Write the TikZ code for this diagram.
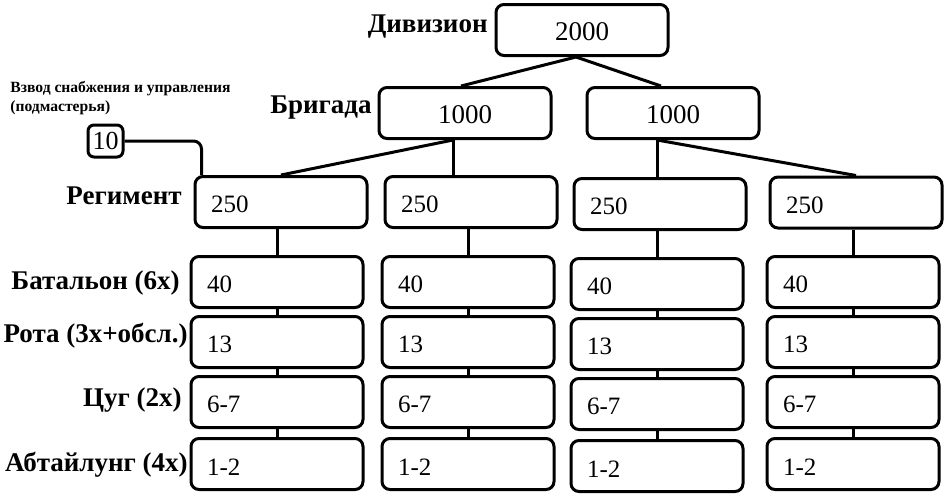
\documentclass[tikz,border=0pt]{standalone}
\usepackage{fontspec}
\setmainfont{Liberation Serif}
\usetikzlibrary{positioning}

\tikzset{
    unit/.style={draw, line width=1.5pt, rounded corners=4pt, minimum height=25.5pt,
        text width=70pt, align=left, inner xsep=8pt, text height=11pt,
        font=\fontsize{12.5}{14}\selectfont},
    head/.style={draw, line width=1.5pt, rounded corners=4pt, minimum width=86pt,
        minimum height=25.5pt, text height=11pt, font=\fontsize{13.5}{15}\selectfont},
    rank/.style={anchor=east, inner sep=0pt, font=\bfseries\fontsize{13.5}{16}\selectfont},
    link/.style={line width=1.5pt}
}

\begin{document}
\begin{tikzpicture}[x=0.5pt, y=-0.5pt]
    \useasboundingbox (0,0) rectangle (948,500);

    % Division and brigades
    \node[head] (div) at (582,30) {2000};
    \node[head] (bri1) at (465,113) {1000};
    \node[head] (bri2) at (673,113) {1000};

    % Regiments
    \foreach \c/\x/\y in {1/281/202, 2/471/202, 3/660/204, 4/856/202.5}
        \node[unit] (reg\c) at (\x,\y) {250};

    % Lower units
    \foreach \c/\x/\dy in {1/277/0, 2/468/0, 3/657/2, 4/853/0} {
        \node[unit] (bat\c) at (\x,282+\dy) {40};
        \node[unit] (rota\c) at (\x,342+\dy) {13};
        \node[unit] (zug\c) at (\x,402+\dy) {6-7};
        \node[unit] (abt\c) at (\x,464+\dy) {1-2};
    }

    % Connectors
    \draw[link] ([xshift=-3pt]div.south) -- ([xshift=-2pt]bri1.north);
    \draw[link] ([xshift=-3pt]div.south) -- ([xshift=-6pt]bri2.north);
    \draw[link] ([xshift=-6pt]bri1.south) -- (reg1.north);
    \draw[link] ([xshift=-6pt]bri1.south) -- ([xshift=-6pt]bri1.south |- reg2.north);
    \draw[link] ([xshift=-8pt]bri2.south) -- ([xshift=-8pt]bri2.south |- reg3.north);
    \draw[link] ([xshift=-8pt]bri2.south) -- (reg4.north);
    \foreach \c in {1,...,4} {
        \draw[link] (bat\c.north) -- (bat\c.north |- reg\c.south);
        \draw[link] (bat\c.south) -- (rota\c.north);
        \draw[link] (rota\c.south) -- (zug\c.north);
        \draw[link] (zug\c.south) -- (abt\c.north);
    }

    % Supply platoon
    \node[draw, line width=1.5pt, rounded corners=3pt, minimum width=17.5pt, minimum height=16pt,
        inner sep=0.5pt, font=\fontsize{13}{15}\selectfont] (hq) at (105.5,141) {10};
    \draw[link, rounded corners=4pt] (hq.east) -| ([xshift=4pt]reg1.north west);
    \node[anchor=north west, align=left, inner sep=0pt,
        font=\bfseries\fontsize{7.8}{9.5}\selectfont] (lhq) at (10,81)
        {Взвод снабжения и управления\\(подмастерья)};

    % Rank labels
    \node[rank] (ldiv) at (488,27) {Дивизион};
    \node[rank] (lbri) at (372,108) {Бригада};
    \node[rank] (lreg) at (182,196) {Регимент};
    \node[rank] (lbat) at (180,283) {Батальон (6x)};
    \node[rank] (lrota) at (188,336) {Рота (3x+обсл.)};
    \node[rank] (lzug) at (182,400) {Цуг (2x)};
    \node[rank] (labt) at (188,465) {Абтайлунг (4x)};
\end{tikzpicture}
\end{document}
